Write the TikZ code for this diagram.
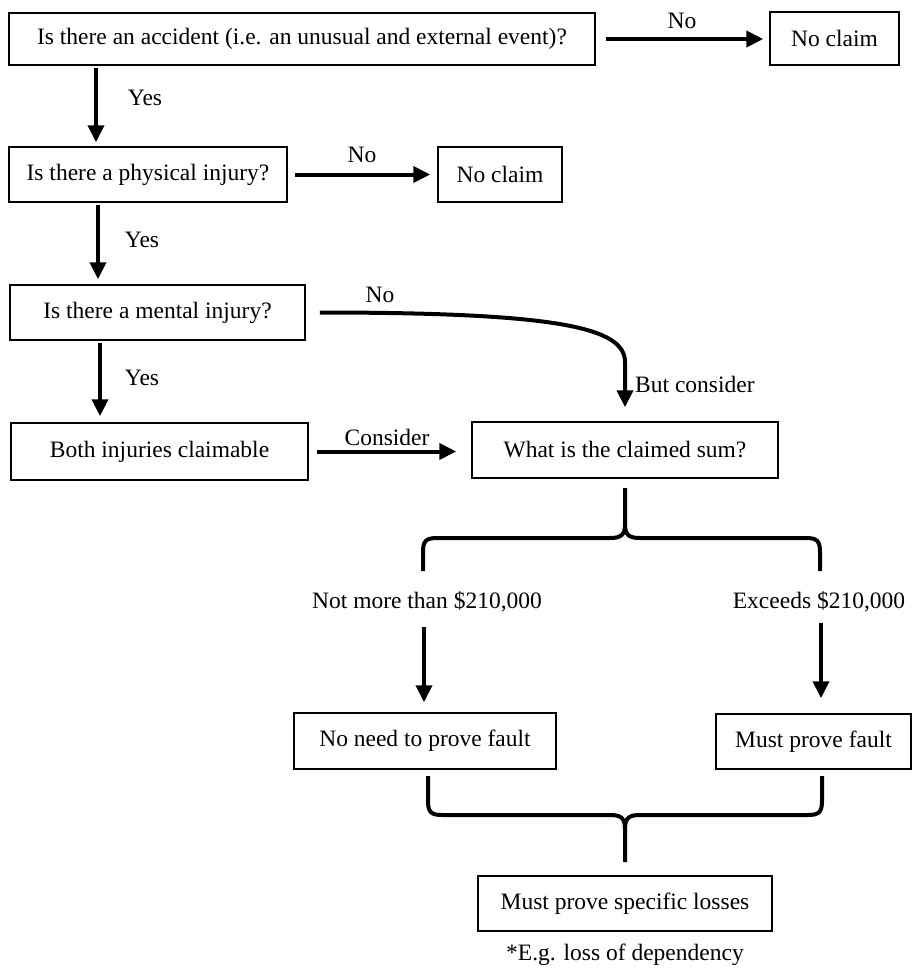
\documentclass[tikz,border=0pt]{standalone}
\usepackage{fontspec}
\setmainfont{Liberation Serif}
\usetikzlibrary{arrows.meta}
\begin{document}
\begin{tikzpicture}[x=1pt,y=-1pt,
  box/.style={draw,line width=1.5pt,rectangle,inner sep=0pt,font=\fontsize{23.5}{28}\selectfont},
  lbl/.style={inner sep=0pt,font=\fontsize{23.5}{28}\selectfont},
  arr/.style={line width=4pt,-{Triangle[length=17pt,width=16pt]}},
  brc/.style={line width=4pt,line join=round}]
\useasboundingbox[fill=white] (0,0) rectangle (916,970);
% boxes
\node[box,minimum width=586pt,minimum height=52pt] (A) at (302,39) {Is there an accident (i.e. an unusual and external event)?};
\node[box,minimum width=129pt,minimum height=53pt] (nc1) at (834.5,38.5) {No claim};
\node[box,minimum width=278pt,minimum height=55pt] (B) at (148,174.5) {Is there a physical injury?};
\node[box,minimum width=124pt,minimum height=55pt] (nc2) at (500,174.5) {No claim};
\node[box,minimum width=295pt,minimum height=55pt] (C) at (157.5,312.5) {Is there a mental injury?};
\node[box,minimum width=297pt,minimum height=57pt] (D) at (159.5,451.5) {Both injuries claimable};
\node[box,minimum width=306pt,minimum height=56pt] (E) at (625,450) {What is the claimed sum?};
\node[box,minimum width=262pt,minimum height=56pt] (F) at (425,741) {No need to prove fault};
\node[box,minimum width=195pt,minimum height=55pt] (G) at (813.5,741.5) {Must prove fault};
\node[box,minimum width=294pt,minimum height=55pt] (H) at (625,903.5) {Must prove specific losses};
% labels
\node[lbl] (no1) at (682,21) {No};
\node[lbl] (no2) at (362,155) {No};
\node[lbl] (no3) at (380,295) {No};
\node[lbl] (yes1) at (145,98) {Yes};
\node[lbl] (yes2) at (142,240) {Yes};
\node[lbl] (yes3) at (142,378) {Yes};
\node[lbl] (cons) at (387,437) {Consider};
\node[lbl,anchor=west] (but) at (635,384) {But consider};
\node[lbl] (nm) at (427,602) {Not more than \$210,000};
\node[lbl] (ex) at (819,602) {Exceeds \$210,000};
\node[lbl] (foot) at (625,955) {*E.g. loss of dependency};
% horizontal arrows
\draw[arr,shorten <=10pt,shorten >=6pt] (A.east) -- (A.east -| nc1.west);
\draw[arr,shorten <=7pt,shorten >=7pt] (B) -- (nc2);
\draw[arr,shorten <=8pt,shorten >=15pt] (D.east) -- (D.east -| E.west);
% vertical arrows
\coordinate (ya) at (96,68);
\coordinate (yb) at (98,205);
\coordinate (yc) at (100,343);
\draw[arr,shorten >=4pt] (ya) -- (ya |- B.north);
\draw[arr,shorten >=5pt] (yb) -- (yb |- C.north);
\draw[arr,shorten >=6pt] (yc) -- (yc |- D.north);
% curved arrow
\coordinate (cb) at (625,362);
\draw[arr] ([xshift=14pt]C.east) .. controls (560,312.5) and (625,328) .. (cb) -- ([yshift=14pt]E.north);
% brace 1
\draw[brc] (423,571) -- (423,552) .. controls (423,541) and (426,538) .. (437,538) -- (610,538) .. controls (621,538) and (625,535) .. (625,524) -- (625,488);
\draw[brc] (625,524) .. controls (625,535) and (629,538) .. (640,538) -- (806,538) .. controls (817,538) and (820,541) .. (820,552) -- (820,571);
% down arrows
\coordinate (l1) at (424,627);
\coordinate (r1) at (821,623);
\draw[arr,shorten >=10pt] (l1) -- (l1 |- F.north);
\draw[arr,shorten >=15pt] (r1) -- (r1 |- G.north);
% brace 2
\draw[brc] (428,776) -- (428,801) .. controls (428,812) and (431,815) .. (442,815) -- (610,815) .. controls (621,815) and (625,818) .. (625,829) -- (625,862);
\draw[brc] (625,829) .. controls (625,818) and (629,815) .. (640,815) -- (808,815) .. controls (819,815) and (822,812) .. (822,801) -- (822,776);
\end{tikzpicture}
\end{document}
